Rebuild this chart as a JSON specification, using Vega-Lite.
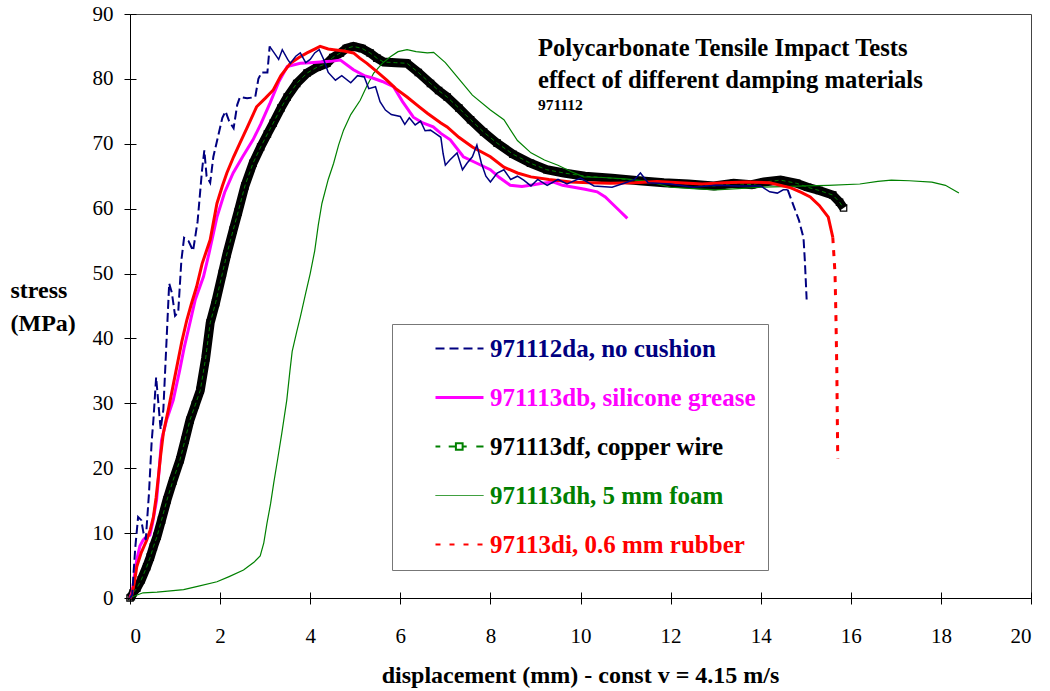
{
  "$schema": "https://vega.github.io/schema/vega-lite/v6.json",
  "width": 901,
  "height": 584,
  "autosize": {"type": "none"},
  "padding": {"left": 130, "top": 14, "right": 19, "bottom": 93},
  "background": "white",
  "config": {
    "view": {"stroke": "#444", "strokeWidth": 1},
    "font": "Liberation Serif"
  },
  "title": {
    "text": ["Polycarbonate Tensile Impact Tests", "effect of different damping materials"],
    "subtitle": "971112",
    "anchor": "start",
    "frame": "group",
    "orient": "top",
    "offset": -111,
    "dx": 408,
    "font": "Liberation Serif",
    "fontSize": 24.6,
    "fontWeight": "bold",
    "lineHeight": 32,
    "color": "black",
    "subtitleFont": "Liberation Serif",
    "subtitleFontSize": 15.5,
    "subtitleFontWeight": "bold",
    "subtitleColor": "black",
    "subtitlePadding": 4
  },
  "datasets": {
    "noCushion": [
      {"d":0,"st":0},{"d":0.05,"st":0.5},{"d":0.08,"st":4},{"d":0.12,"st":8},{"d":0.18,"st":12.5},{"d":0.25,"st":12},{"d":0.3,"st":10},{"d":0.35,"st":9},{"d":0.42,"st":16},{"d":0.48,"st":24},{"d":0.52,"st":27.5},{"d":0.58,"st":34},{"d":0.63,"st":30},{"d":0.68,"st":26},{"d":0.74,"st":29},{"d":0.8,"st":38},{"d":0.87,"st":48.5},{"d":0.93,"st":47},{"d":1.0,"st":43.5},{"d":1.07,"st":44},{"d":1.14,"st":52},{"d":1.2,"st":55.5},{"d":1.3,"st":55},{"d":1.4,"st":53.5},{"d":1.5,"st":58},{"d":1.6,"st":66},{"d":1.65,"st":69},{"d":1.7,"st":65},{"d":1.78,"st":64},{"d":1.85,"st":68},{"d":1.95,"st":71},{"d":2.05,"st":74},{"d":2.12,"st":75},{"d":2.2,"st":73.5},{"d":2.3,"st":72.4},{"d":2.38,"st":76},{"d":2.44,"st":77.2},{"d":2.6,"st":77},{"d":2.78,"st":77.2},{"d":2.85,"st":80},{"d":2.92,"st":81},{"d":3.05,"st":81},{"d":3.1,"st":85},{"d":3.2,"st":84},{"d":3.3,"st":83},{"d":3.38,"st":84.5},{"d":3.5,"st":83},{"d":3.56,"st":82.4},{"d":3.68,"st":83.5},{"d":3.78,"st":84},{"d":3.9,"st":82.5},{"d":4.0,"st":83},{"d":4.1,"st":84},{"d":4.2,"st":84.5},{"d":4.3,"st":83},{"d":4.4,"st":81},{"d":4.56,"st":79.8},{"d":4.7,"st":80.5},{"d":4.9,"st":79.4},{"d":5.05,"st":80.5},{"d":5.2,"st":80.3},{"d":5.3,"st":78.5},{"d":5.45,"st":78.8},{"d":5.55,"st":76.5},{"d":5.67,"st":75.2},{"d":5.8,"st":74.5},{"d":6.0,"st":74.2},{"d":6.1,"st":73},{"d":6.2,"st":74},{"d":6.33,"st":72.9},{"d":6.45,"st":73.5},{"d":6.55,"st":72},{"d":6.67,"st":72.1},{"d":6.8,"st":71.5},{"d":6.9,"st":71},{"d":6.95,"st":68.5},{"d":7.0,"st":66.7},{"d":7.1,"st":67.5},{"d":7.26,"st":68.6},{"d":7.38,"st":66},{"d":7.48,"st":67},{"d":7.6,"st":68},{"d":7.7,"st":69.8},{"d":7.8,"st":67},{"d":7.9,"st":65},{"d":8.0,"st":64.1},{"d":8.15,"st":65.5},{"d":8.3,"st":66},{"d":8.45,"st":64.5},{"d":8.6,"st":65},{"d":8.74,"st":64.4},{"d":8.9,"st":63.5},{"d":9.05,"st":64.5},{"d":9.26,"st":63.6},{"d":9.5,"st":64.5},{"d":9.7,"st":63.8},{"d":10,"st":64.7},{"d":10.3,"st":63.5},{"d":10.7,"st":63.3},{"d":11.0,"st":64},{"d":11.2,"st":64.5},{"d":11.33,"st":65.5},{"d":11.5,"st":64},{"d":12,"st":63.8},{"d":12.5,"st":63.3},{"d":13,"st":63.6},{"d":13.5,"st":63.5},{"d":14,"st":63.5},{"d":14.2,"st":62.6},{"d":14.37,"st":62.4},{"d":14.5,"st":62.9},{"d":14.6,"st":62.9},{"d":14.7,"st":61},{"d":14.85,"st":58.2},{"d":14.95,"st":55.5},{"d":14.98,"st":52},{"d":15.0,"st":49},{"d":15.02,"st":46}
    ],
    "grease": [
      {"d":0,"st":0},{"d":0.05,"st":1},{"d":0.1,"st":3.5},{"d":0.15,"st":5.9},{"d":0.22,"st":8},{"d":0.29,"st":8.9},{"d":0.37,"st":9.5},{"d":0.44,"st":9.7},{"d":0.5,"st":11.5},{"d":0.59,"st":15.1},{"d":0.65,"st":20},{"d":0.7,"st":24.3},{"d":0.81,"st":27.4},{"d":0.96,"st":30.5},{"d":1.1,"st":35},{"d":1.2,"st":38.5},{"d":1.33,"st":42.4},{"d":1.45,"st":46},{"d":1.63,"st":49.5},{"d":1.75,"st":53},{"d":1.93,"st":58.7},{"d":2.1,"st":62.5},{"d":2.29,"st":65.5},{"d":2.5,"st":68},{"d":2.73,"st":70.6},{"d":2.9,"st":73},{"d":3.11,"st":76.3},{"d":3.3,"st":79.5},{"d":3.49,"st":81.9},{"d":3.78,"st":82.4},{"d":4.0,"st":82.5},{"d":4.22,"st":82.6},{"d":4.45,"st":82.7},{"d":4.67,"st":82.9},{"d":4.96,"st":81.4},{"d":5.2,"st":80.5},{"d":5.4,"st":80.1},{"d":5.6,"st":79.6},{"d":5.85,"st":78.8},{"d":6.05,"st":76.5},{"d":6.29,"st":74.1},{"d":6.5,"st":73.2},{"d":6.73,"st":72.6},{"d":6.9,"st":71.6},{"d":7.11,"st":70.6},{"d":7.4,"st":68},{"d":7.7,"st":67},{"d":8.0,"st":66},{"d":8.2,"st":64.8},{"d":8.44,"st":63.6},{"d":8.7,"st":63.4},{"d":8.89,"st":63.6},{"d":9.15,"st":63.9},{"d":9.4,"st":64.1},{"d":9.6,"st":63.6},{"d":9.85,"st":63.3},{"d":10.1,"st":63},{"d":10.37,"st":62.6},{"d":10.55,"st":61.8},{"d":10.7,"st":60.8},{"d":10.85,"st":59.8},{"d":11.04,"st":58.5}
    ],
    "copper": [
      {"d":0,"st":0},{"d":0.03,"st":0.2},{"d":0.07,"st":0.8},{"d":0.15,"st":1.5},{"d":0.25,"st":2.8},{"d":0.37,"st":4.8},{"d":0.45,"st":6.3},{"d":0.52,"st":7.9},{"d":0.6,"st":9.5},{"d":0.7,"st":12},{"d":0.82,"st":15.1},{"d":0.95,"st":18},{"d":1.11,"st":21.3},{"d":1.22,"st":24.3},{"d":1.33,"st":27.4},{"d":1.45,"st":29.8},{"d":1.56,"st":32},{"d":1.68,"st":37},{"d":1.78,"st":42.4},{"d":1.9,"st":45.5},{"d":2.05,"st":50},{"d":2.15,"st":53},{"d":2.29,"st":56.7},{"d":2.4,"st":59.5},{"d":2.55,"st":63.5},{"d":2.73,"st":67},{"d":2.9,"st":69.5},{"d":3.05,"st":71.5},{"d":3.18,"st":73.2},{"d":3.35,"st":75.5},{"d":3.49,"st":77.2},{"d":3.7,"st":79.3},{"d":3.93,"st":80.9},{"d":4.15,"st":81.8},{"d":4.37,"st":82.4},{"d":4.5,"st":83.3},{"d":4.67,"st":84},{"d":4.8,"st":84.7},{"d":4.96,"st":85},{"d":5.15,"st":84.7},{"d":5.33,"st":84},{"d":5.48,"st":83.2},{"d":5.63,"st":82.6},{"d":5.9,"st":82.5},{"d":6.15,"st":82.4},{"d":6.4,"st":81},{"d":6.67,"st":79.3},{"d":6.85,"st":78.2},{"d":7.04,"st":77.2},{"d":7.3,"st":75.5},{"d":7.56,"st":73.7},{"d":7.85,"st":71.8},{"d":8.15,"st":70.1},{"d":8.5,"st":68.4},{"d":8.89,"st":67},{"d":9.25,"st":66},{"d":9.63,"st":65.5},{"d":10.1,"st":65},{"d":10.7,"st":64.7},{"d":11.3,"st":64.3},{"d":11.85,"st":64},{"d":12.4,"st":63.8},{"d":12.96,"st":63.5},{"d":13.4,"st":63.9},{"d":13.8,"st":63.7},{"d":14.07,"st":64.1},{"d":14.44,"st":64.4},{"d":14.8,"st":63.9},{"d":15.04,"st":63.3},{"d":15.3,"st":62.8},{"d":15.6,"st":62.1},{"d":15.75,"st":61},{"d":15.84,"st":60.1}
    ],
    "foam": [
      {"d":0,"st":0},{"d":0.1,"st":0.3},{"d":0.29,"st":0.8},{"d":0.6,"st":0.9},{"d":0.9,"st":1.1},{"d":1.19,"st":1.3},{"d":1.5,"st":1.8},{"d":1.93,"st":2.5},{"d":2.2,"st":3.3},{"d":2.52,"st":4.3},{"d":2.75,"st":5.5},{"d":2.89,"st":6.5},{"d":2.97,"st":8.5},{"d":3.04,"st":11.5},{"d":3.12,"st":14.5},{"d":3.19,"st":17.7},{"d":3.28,"st":21.5},{"d":3.37,"st":25.4},{"d":3.48,"st":30.5},{"d":3.55,"st":35},{"d":3.6,"st":38},{"d":3.7,"st":41},{"d":3.78,"st":43.3},{"d":3.9,"st":47},{"d":4.0,"st":50},{"d":4.1,"st":53.5},{"d":4.18,"st":57.5},{"d":4.26,"st":60.8},{"d":4.4,"st":64.5},{"d":4.52,"st":67},{"d":4.63,"st":69.8},{"d":4.74,"st":72.1},{"d":4.9,"st":74.5},{"d":5.11,"st":76.7},{"d":5.25,"st":78.8},{"d":5.41,"st":80.9},{"d":5.6,"st":82.4},{"d":5.78,"st":83.4},{"d":5.95,"st":84.2},{"d":6.15,"st":84.5},{"d":6.35,"st":84.2},{"d":6.6,"st":84},{"d":6.74,"st":84.1},{"d":7.0,"st":82.5},{"d":7.3,"st":80},{"d":7.6,"st":77.5},{"d":8.0,"st":75.2},{"d":8.3,"st":73.7},{"d":8.6,"st":70.5},{"d":8.9,"st":68.6},{"d":9.2,"st":67.5},{"d":9.5,"st":66.7},{"d":9.8,"st":65.7},{"d":10.07,"st":64.9},{"d":10.5,"st":64.8},{"d":11.0,"st":64.6},{"d":11.5,"st":64.2},{"d":12.0,"st":63.3},{"d":12.5,"st":63.1},{"d":13.0,"st":62.9},{"d":13.5,"st":63.1},{"d":14.0,"st":63.3},{"d":14.5,"st":63.4},{"d":15.0,"st":63.5},{"d":15.5,"st":63.6},{"d":16.2,"st":63.8},{"d":16.6,"st":64.2},{"d":16.9,"st":64.4},{"d":17.3,"st":64.3},{"d":17.8,"st":64.1},{"d":18.1,"st":63.6},{"d":18.4,"st":62.4}
    ],
    "rubber": [
      {"d":0,"st":0},{"d":0.04,"st":0.5},{"d":0.1,"st":2.5},{"d":0.15,"st":4.8},{"d":0.25,"st":7},{"d":0.37,"st":8.9},{"d":0.45,"st":10.5},{"d":0.52,"st":12.5},{"d":0.58,"st":15.5},{"d":0.63,"st":18.7},{"d":0.68,"st":22},{"d":0.74,"st":25.4},{"d":0.85,"st":29},{"d":0.95,"st":32.5},{"d":1.05,"st":36},{"d":1.15,"st":39.5},{"d":1.26,"st":42.8},{"d":1.37,"st":45.5},{"d":1.48,"st":48},{"d":1.6,"st":51.5},{"d":1.78,"st":55.2},{"d":1.93,"st":60.8},{"d":2.05,"st":63.5},{"d":2.15,"st":65.5},{"d":2.3,"st":68},{"d":2.44,"st":70.1},{"d":2.6,"st":72.5},{"d":2.81,"st":75.7},{"d":3.0,"st":77},{"d":3.18,"st":78.3},{"d":3.35,"st":80.5},{"d":3.56,"st":82.4},{"d":3.75,"st":83.3},{"d":3.93,"st":84},{"d":4.1,"st":84.6},{"d":4.22,"st":85},{"d":4.4,"st":84.6},{"d":4.52,"st":84.5},{"d":4.75,"st":84.3},{"d":4.96,"st":84},{"d":5.1,"st":83.2},{"d":5.26,"st":82.4},{"d":5.5,"st":81},{"d":5.7,"st":79.8},{"d":5.9,"st":78.5},{"d":6.15,"st":77.2},{"d":6.4,"st":75.8},{"d":6.6,"st":74.7},{"d":6.9,"st":73.2},{"d":7.04,"st":72.6},{"d":7.3,"st":71},{"d":7.6,"st":69.5},{"d":8.0,"st":68},{"d":8.3,"st":66.4},{"d":8.6,"st":65.5},{"d":8.9,"st":64.9},{"d":9.3,"st":64.5},{"d":9.78,"st":64.1},{"d":10.2,"st":64},{"d":10.67,"st":63.9},{"d":11.2,"st":64},{"d":11.7,"st":64.2},{"d":12.2,"st":64},{"d":12.7,"st":63.8},{"d":13.2,"st":64},{"d":13.7,"st":64.1},{"d":14.2,"st":64},{"d":14.67,"st":63.2},{"d":14.9,"st":62.5},{"d":15.1,"st":61.8},{"d":15.3,"st":60.5},{"d":15.5,"st":58.7},{"d":15.6,"st":55.6},{"d":15.65,"st":50},{"d":15.67,"st":43.3},{"d":15.69,"st":35},{"d":15.7,"st":28},{"d":15.71,"st":21.5}
    ]
  },
  "resolve": {"axis": {"x": "independent", "y": "independent"}},
  "layer": [
    {
      "encoding": {
        "x": {
          "field": "d", "type": "quantitative",
          "scale": {"domain": [0, 20], "nice": false, "zero": false},
          "axis": {
            "orient": "bottom",
            "values": [0,2,4,6,8,10,12,14,16,18,20],
            "grid": false,
            "domainColor": "#000", "tickColor": "#000", "tickSize": 6,
            "labelFont": "Liberation Serif", "labelFontSize": 21, "labelColor": "#000", "labelPadding": 21,
            "title": "displacement (mm) - const v = 4.15 m/s",
            "titleFont": "Liberation Serif", "titleFontSize": 24, "titleFontWeight": "bold", "titleColor": "#000",
            "titleX": 450, "titleY": 84, "titleBaseline": "alphabetic", "titleAlign": "center"
          }
        },
        "y": {
          "field": "st", "type": "quantitative",
          "scale": {"domain": [0, 90], "nice": false},
          "axis": {
            "orient": "left",
            "values": [0,10,20,30,40,50,60,70,80,90],
            "grid": false,
            "domainColor": "#000", "tickColor": "#000", "tickSize": 6,
            "labelFont": "Liberation Serif", "labelFontSize": 21, "labelColor": "#000", "labelPadding": 11,
            "title": ["stress", "(MPa)"],
            "titleFont": "Liberation Serif", "titleFontSize": 24, "titleFontWeight": "bold", "titleColor": "#000",
            "titleAngle": 0, "titleAlign": "left", "titleBaseline": "alphabetic",
            "titleX": -120, "titleY": 283, "titleLineHeight": 33
          }
        }
      },
      "layer": [
        {
          "data": {"name": "copper"},
          "mark": {"type": "line", "stroke": "#000", "strokeWidth": 9}
        },
        {
          "data": {"name": "copper"},
          "mark": {"type": "point", "shape": "square", "size": 40, "filled": false, "stroke": "#000", "opacity": 1, "strokeWidth": 1.2}
        },
        {
          "data": {"name": "copper"},
          "mark": {"type": "line", "strokeWidth": 1, "strokeDash": [4, 3]},
          "encoding": {"color": {"datum": "971113df, copper wire", "type": "nominal",
            "scale": {"domain": ["971112da, no cushion", "971113db, silicone grease", "971113df, copper wire", "971113dh, 5 mm foam", "97113di, 0.6 mm rubber"],
                      "range": ["#000080", "#FF00FF", "#008000", "#008000", "#FF0000"]},
            "legend": {
              "orient": "none", "legendX": 262, "legendY": 310, "direction": "vertical",
              "title": null,
              "symbolType": "stroke", "symbolSize": 2304, "symbolStrokeWidth": 2, "symbolOffset": 43,
              "labelFont": "Liberation Serif", "labelFontSize": 25, "labelFontWeight": "bold", "labelOffset": 18, "labelLimit": 600,
              "rowPadding": 23, "padding": 12,
              "strokeColor": "#777", "fillColor": "#fff", "cornerRadius": 0,
              "encode": {
                "symbols": {"update": {
                  "strokeDash": {"signal": "datum.value == '971112da, no cushion' ? [9,5] : datum.value == '97113di, 0.6 mm rubber' ? [5,9] : [1,0]"},
                  "strokeWidth": {"signal": "datum.value == '971113db, silicone grease' ? 3 : datum.value == '971113dh, 5 mm foam' ? 1 : 2"},
                  "shape": {"signal": "datum.value == '971113df, copper wire' ? 'M-1,0H-0.8M-0.45,0H-0.15M-0.15,-0.14H0.13V0.14H-0.15ZM0.13,0H0.3M0.7,0H1' : 'stroke'"}
                }},
                "labels": {"update": {
                  "fill": {"signal": "datum.value == '971112da, no cushion' ? '#000080' : datum.value == '971113db, silicone grease' ? '#FF00FF' : datum.value == '971113df, copper wire' ? '#000000' : datum.value == '971113dh, 5 mm foam' ? '#008000' : '#FF0000'"}
                }}
              }
            }}}
        },
        {
          "data": {"name": "foam"},
          "mark": {"type": "line", "strokeWidth": 1.2},
          "encoding": {"color": {"datum": "971113dh, 5 mm foam", "type": "nominal"}}
        },
        {
          "data": {"name": "grease"},
          "mark": {"type": "line", "strokeWidth": 3},
          "encoding": {"color": {"datum": "971113db, silicone grease", "type": "nominal"}}
        },
        {
          "data": {"name": "rubber"},
          "transform": [{"filter": "datum.d <= 15.6"}],
          "mark": {"type": "line", "strokeWidth": 3},
          "encoding": {"color": {"datum": "97113di, 0.6 mm rubber", "type": "nominal"}}
        },
        {
          "data": {"name": "rubber"},
          "transform": [{"filter": "datum.d >= 15.6"}],
          "mark": {"type": "line", "strokeWidth": 3, "strokeDash": [6, 7]},
          "encoding": {"color": {"datum": "97113di, 0.6 mm rubber", "type": "nominal"}}
        },
        {
          "data": {"name": "noCushion"},
          "transform": [{"filter": "datum.d <= 3.1"}],
          "mark": {"type": "line", "strokeWidth": 2, "strokeDash": [9, 4]},
          "encoding": {"color": {"datum": "971112da, no cushion", "type": "nominal"}}
        },
        {
          "data": {"name": "noCushion"},
          "transform": [{"filter": "datum.d >= 3.1 && datum.d <= 14.6"}],
          "mark": {"type": "line", "strokeWidth": 1.5},
          "encoding": {"color": {"datum": "971112da, no cushion", "type": "nominal"}}
        },
        {
          "data": {"name": "noCushion"},
          "transform": [{"filter": "datum.d >= 14.6"}],
          "mark": {"type": "line", "strokeWidth": 2, "strokeDash": [9, 4]},
          "encoding": {"color": {"datum": "971112da, no cushion", "type": "nominal"}}
        }
      ]
    },
    {
      "data": {"name": "copper"},
      "mark": {"type": "point", "opacity": 0},
      "encoding": {
        "x": {
          "field": "d", "type": "quantitative",
          "axis": {"orient": "bottom", "values": [0,2,4,6,8,10,12,14,16,18,20], "grid": false, "labels": false, "domain": false, "title": null, "tickColor": "#000", "tickSize": -6}
        },
        "y": {
          "field": "st", "type": "quantitative",
          "axis": {"orient": "left", "values": [0,10,20,30,40,50,60,70,80,90], "grid": false, "labels": false, "domain": false, "title": null, "tickColor": "#000", "tickSize": -6}
        }
      }
    }
  ]
}
